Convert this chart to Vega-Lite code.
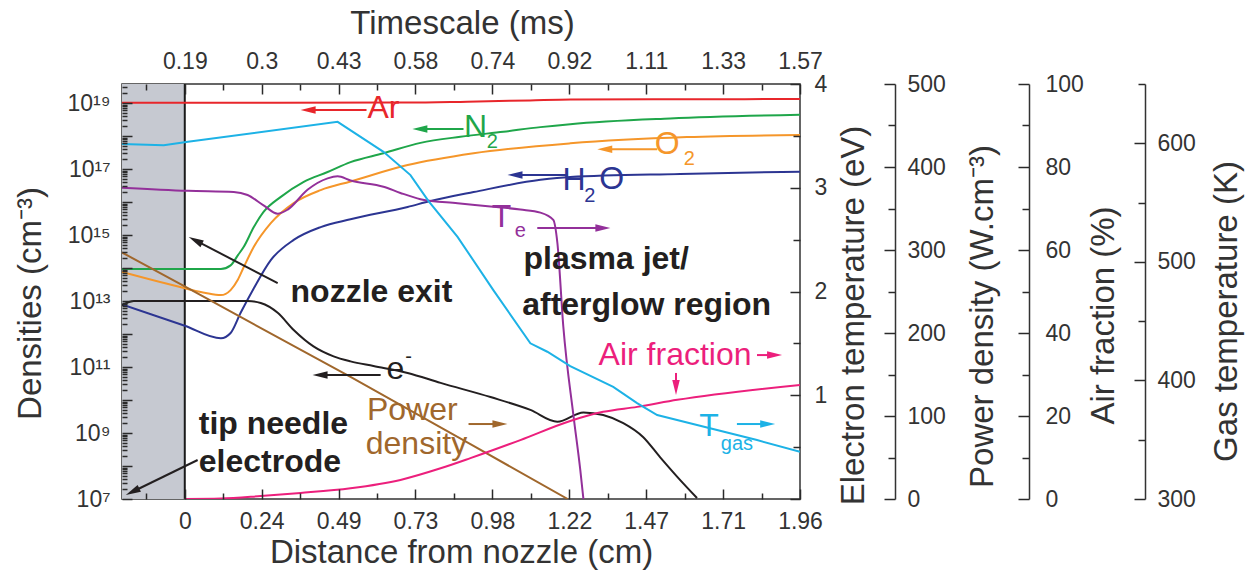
{
  "$schema": "https://vega.github.io/schema/vega-lite/v6.json",
  "width": 678,
  "height": 415,
  "autosize": {"type": "none"},
  "padding": {"left": 122, "top": 84, "right": 453, "bottom": 77},
  "background": "white",
  "config": {
    "view": {"stroke": "#333333", "strokeWidth": 1.5},
    "font": "Liberation Sans",
    "axis": {
      "labelFont": "Liberation Sans", "titleFont": "Liberation Sans",
      "labelFontSize": 23, "titleFontSize": 33, "titleFontWeight": "normal",
      "labelColor": "#333333", "titleColor": "#333333",
      "tickColor": "#2a2a2a", "domainColor": "#333333",
      "tickWidth": 1.5, "domainWidth": 1.5, "grid": false,
      "labelOverlap": false, "labelFlush": false,
      "titleAlign": "center", "titleBaseline": "middle", "labelBaseline": "middle"
    },
    "text": {"font": "Liberation Sans"}
  },
  "datasets": {
    "density": [
      {"species": "Ar", "x": -0.2, "n": 1.02e19}, {"species": "Ar", "x": 0.3, "n": 1.02e19},
      {"species": "Ar", "x": 0.71, "n": 1.03e19}, {"species": "Ar", "x": 0.9, "n": 1.1e19},
      {"species": "Ar", "x": 1.1, "n": 1.2e19}, {"species": "Ar", "x": 1.23, "n": 1.27e19},
      {"species": "Ar", "x": 1.6, "n": 1.3e19}, {"species": "Ar", "x": 1.96, "n": 1.32e19},

      {"species": "N2", "x": -0.2, "n": 9.3e13}, {"species": "N2", "x": 0.115, "n": 9.3e13},
      {"species": "N2", "x": 0.146, "n": 1.2e14}, {"species": "N2", "x": 0.17, "n": 2.5e14},
      {"species": "N2", "x": 0.188, "n": 4.4e14}, {"species": "N2", "x": 0.22, "n": 1.74e15},
      {"species": "N2", "x": 0.251, "n": 5.0e15}, {"species": "N2", "x": 0.305, "n": 1.41e16},
      {"species": "N2", "x": 0.379, "n": 4.1e16}, {"species": "N2", "x": 0.455, "n": 8.1e16},
      {"species": "N2", "x": 0.528, "n": 1.62e17}, {"species": "N2", "x": 0.633, "n": 3.0e17},
      {"species": "N2", "x": 0.751, "n": 6.2e17}, {"species": "N2", "x": 0.878, "n": 9.5e17},
      {"species": "N2", "x": 1.015, "n": 1.35e18}, {"species": "N2", "x": 1.133, "n": 1.86e18},
      {"species": "N2", "x": 1.228, "n": 2.29e18}, {"species": "N2", "x": 1.546, "n": 3.4e18},
      {"species": "N2", "x": 1.96, "n": 4.4e18},

      {"species": "O2", "x": -0.2, "n": 7.6e13}, {"species": "O2", "x": 0, "n": 2.45e13},
      {"species": "O2", "x": 0.067, "n": 1.74e13}, {"species": "O2", "x": 0.115, "n": 1.51e13},
      {"species": "O2", "x": 0.146, "n": 2.14e13}, {"species": "O2", "x": 0.169, "n": 4.4e13},
      {"species": "O2", "x": 0.188, "n": 1.07e14}, {"species": "O2", "x": 0.22, "n": 4.4e14},
      {"species": "O2", "x": 0.274, "n": 2.3e15}, {"species": "O2", "x": 0.347, "n": 9.3e15},
      {"species": "O2", "x": 0.433, "n": 2.3e16}, {"species": "O2", "x": 0.528, "n": 4.2e16},
      {"species": "O2", "x": 0.71, "n": 1.32e17}, {"species": "O2", "x": 0.92, "n": 3.0e17},
      {"species": "O2", "x": 1.228, "n": 6.0e17}, {"species": "O2", "x": 1.6, "n": 9.3e17},
      {"species": "O2", "x": 1.96, "n": 1.07e18},

      {"species": "H2O", "x": -0.2, "n": 7.9e12}, {"species": "H2O", "x": 0, "n": 1.78e12},
      {"species": "H2O", "x": 0.115, "n": 7.4e11}, {"species": "H2O", "x": 0.146, "n": 1.07e12},
      {"species": "H2O", "x": 0.178, "n": 4.4e12}, {"species": "H2O", "x": 0.22, "n": 2.45e13},
      {"species": "H2O", "x": 0.274, "n": 1.74e14}, {"species": "H2O", "x": 0.347, "n": 7.1e14},
      {"species": "H2O", "x": 0.433, "n": 1.74e15}, {"species": "H2O", "x": 0.528, "n": 3.0e15},
      {"species": "H2O", "x": 0.71, "n": 7.1e15}, {"species": "H2O", "x": 0.783, "n": 1.07e16},
      {"species": "H2O", "x": 0.92, "n": 2.0e16}, {"species": "H2O", "x": 1.133, "n": 4.7e16},
      {"species": "H2O", "x": 1.228, "n": 5.75e16}, {"species": "H2O", "x": 1.578, "n": 7.1e16},
      {"species": "H2O", "x": 1.96, "n": 8.3e16},

      {"species": "e", "x": -0.2, "n": 7.4e12}, {"species": "e", "x": -0.162, "n": 1.0e13},
      {"species": "e", "x": 0.2, "n": 1.0e13}, {"species": "e", "x": 0.242, "n": 8.7e12},
      {"species": "e", "x": 0.296, "n": 4.4e12}, {"species": "e", "x": 0.347, "n": 1.32e12},
      {"species": "e", "x": 0.41, "n": 4.2e11}, {"species": "e", "x": 0.474, "n": 2.1e11},
      {"species": "e", "x": 0.528, "n": 1.48e11}, {"species": "e", "x": 0.601, "n": 1.07e11},
      {"species": "e", "x": 0.71, "n": 6.6e10}, {"species": "e", "x": 0.815, "n": 3.3e10},
      {"species": "e", "x": 0.974, "n": 1.23e10}, {"species": "e", "x": 1.101, "n": 5.0e9},
      {"species": "e", "x": 1.187, "n": 2.2e9}, {"species": "e", "x": 1.27, "n": 4.2e9},
      {"species": "e", "x": 1.333, "n": 3.5e9}, {"species": "e", "x": 1.397, "n": 2.0e9},
      {"species": "e", "x": 1.46, "n": 7.6e8}, {"species": "e", "x": 1.514, "n": 1.86e8},
      {"species": "e", "x": 1.569, "n": 4.7e7}, {"species": "e", "x": 1.632, "n": 1.07e7}
    ],
    "te": [
      {"x": -0.2, "te": 3.0}, {"x": 0.01, "te": 2.97}, {"x": 0.156, "te": 2.96}, {"x": 0.2, "te": 2.93},
      {"x": 0.251, "te": 2.83}, {"x": 0.296, "te": 2.75}, {"x": 0.328, "te": 2.79}, {"x": 0.391, "te": 2.98},
      {"x": 0.455, "te": 3.09}, {"x": 0.487, "te": 3.11}, {"x": 0.528, "te": 3.07}, {"x": 0.633, "te": 3.01},
      {"x": 0.687, "te": 2.95}, {"x": 0.751, "te": 2.89}, {"x": 0.869, "te": 2.85}, {"x": 0.974, "te": 2.82},
      {"x": 1.069, "te": 2.79}, {"x": 1.133, "te": 2.76}, {"x": 1.174, "te": 2.69}, {"x": 1.187, "te": 2.47},
      {"x": 1.206, "te": 1.66}, {"x": 1.238, "te": 0.81}, {"x": 1.26, "te": 0.28}, {"x": 1.27, "te": 0.0}
    ],
    "power": [
      {"x": -0.2, "p": 297}, {"x": 0.01, "p": 254}, {"x": 0.528, "p": 147}, {"x": 0.91, "p": 66}, {"x": 1.22, "p": 0}
    ],
    "air": [
      {"x": 0, "a": 0}, {"x": 0.115, "a": 0.1}, {"x": 0.242, "a": 0.7}, {"x": 0.369, "a": 1.45},
      {"x": 0.528, "a": 2.6}, {"x": 0.687, "a": 4.6}, {"x": 0.815, "a": 7.4}, {"x": 0.91, "a": 9.85},
      {"x": 1.069, "a": 14.2}, {"x": 1.228, "a": 18.8}, {"x": 1.333, "a": 21.0}, {"x": 1.441, "a": 22.2},
      {"x": 1.569, "a": 23.9}, {"x": 1.96, "a": 27.5}
    ],
    "tgas": [
      {"x": -0.2, "t": 599.3}, {"x": -0.067, "t": 598.4}, {"x": 0.01, "t": 601.2}, {"x": 0.487, "t": 618.1},
      {"x": 0.633, "t": 592.8}, {"x": 0.719, "t": 573.2}, {"x": 0.776, "t": 551.5}, {"x": 0.869, "t": 521.1},
      {"x": 0.983, "t": 476.2}, {"x": 1.101, "t": 431.3}, {"x": 1.155, "t": 424.2}, {"x": 1.228, "t": 412.1},
      {"x": 1.365, "t": 394.6}, {"x": 1.441, "t": 380.9}, {"x": 1.505, "t": 370.8}, {"x": 1.632, "t": 362.4},
      {"x": 1.823, "t": 349.7}, {"x": 1.96, "t": 339.9}
    ],
    "arrows": [
      {"series": "Ar", "x": 0.579, "y": 6.1e18, "x2": 0.393, "y2": 6.1e18, "heading": 270},
      {"series": "N2", "x": 0.888, "y": 1.63e18, "x2": 0.749, "y2": 1.63e18, "heading": 270},
      {"series": "O2", "x": 1.505, "y": 4.0e17, "x2": 1.338, "y2": 4.0e17, "heading": 270},
      {"series": "H2O", "x": 1.219, "y": 6.6e16, "x2": 1.052, "y2": 6.6e16, "heading": 270},
      {"series": "Te", "x": 1.123, "y": 1.63e15, "x2": 1.332, "y2": 1.63e15, "heading": 90},
      {"series": "e", "x": 0.624, "y": 5.7e10, "x2": 0.431, "y2": 5.7e10, "heading": 270},
      {"series": "Power", "x": 0.904, "y": 1.87e9, "x2": 1.004, "y2": 1.87e9, "heading": 90},
      {"series": "Air", "x": 1.823, "y": 2.3e11, "x2": 1.879, "y2": 2.3e11, "heading": 90},
      {"series": "Air", "x": 1.565, "y": 6.6e10, "x2": 1.565, "y2": 2.4e10, "heading": 180},
      {"series": "Tgas", "x": 1.759, "y": 1.87e9, "x2": 1.857, "y2": 1.87e9, "heading": 90},
      {"series": "e", "x": 0.296, "y": 3.5e13, "x2": 0.034, "y2": 6.86e14, "heading": 297},
      {"series": "e", "x": 0.041, "y": 1.52e8, "x2": -0.1664, "y2": 1.66e7, "heading": 244}
    ],
    "labels": [
      {"series": "Ar", "x": 0.633, "y": 7.3e18, "text": "Ar"},
      {"series": "N2", "x": 0.926, "y": 1.87e18, "text": "N"},
      {"series": "O2", "x": 1.537, "y": 5.7e17, "text": "O"},
      {"series": "H2O", "x": 1.24, "y": 4.6e16, "text": "H"},
      {"series": "H2O", "x": 1.36, "y": 5.0e16, "text": "O"},
      {"series": "Te", "x": 1.009, "y": 3.5e15, "text": "T"},
      {"series": "Air", "x": 1.562, "y": 2.3e11, "text": "Air fraction"},
      {"series": "Tgas", "x": 1.67, "y": 1.63e9, "text": "T"},
      {"series": "e", "x": 0.671, "y": 8.7e10, "text": "e"},
      {"series": "Power", "x": 0.725, "y": 4.9e9, "text": "Power"},
      {"series": "Power", "x": 0.738, "y": 4.6e8, "text": "density"}
    ],
    "scripts": [
      {"series": "N2", "x": 0.98, "y": 6.6e17, "text": "2"},
      {"series": "O2", "x": 1.607, "y": 2.0e17, "text": "2"},
      {"series": "H2O", "x": 1.29, "y": 1.5e16, "text": "2"},
      {"series": "Te", "x": 1.069, "y": 1.32e15, "text": "e"},
      {"series": "Tgas", "x": 1.759, "y": 4.6e8, "text": "gas"},
      {"series": "e", "x": 0.713, "y": 2.0e11, "text": "-"}
    ],
    "notes": [
      {"x": 0.337, "y": 1.94e13, "text": "nozzle exit"},
      {"x": 1.079, "y": 1.94e14, "text": "plasma jet/"},
      {"x": 1.075, "y": 7.8e12, "text": "afterglow region"},
      {"x": 0.0445, "y": 1.86e9, "text": "tip needle"},
      {"x": 0.0445, "y": 1.32e8, "text": "electrode"}
    ]
  },
  "layer": [
    {
      "data": {"values": [{"from": -0.2, "to": 0}]},
      "mark": {"type": "rect", "color": "#c6c9d1"},
      "encoding": {
        "x": {
          "field": "from", "type": "quantitative",
          "scale": {"domain": [-0.2, 1.96], "nice": false, "zero": false},
          "axis": {
            "orient": "bottom", "domain": false, "zindex": 2,
            "values": [-0.1225, 0, 0.1225, 0.245, 0.3675, 0.49, 0.6125, 0.735, 0.8575, 0.98, 1.1025, 1.225, 1.3475, 1.47, 1.5925, 1.715, 1.8375, 1.96],
            "tickSize": {"condition": {"test": "abs(datum.value/0.245 - round(datum.value/0.245)) < 0.1", "value": -10}, "value": -6},
            "labelPadding": 32,
            "labelExpr": "abs(datum.value/0.245 - round(datum.value/0.245)) < 0.1 ? ['0','0.24','0.49','0.73','0.98','1.22','1.47','1.71','1.96'][round(datum.value/0.245)] : ''",
            "title": "Distance from nozzle (cm)", "titleX": 339, "titleY": 53
          }
        },
        "x2": {"field": "to"}
      }
    },
    {
      "data": {"values": [{"at": 0}]},
      "mark": {"type": "rule", "color": "#1a1a1a", "strokeWidth": 2},
      "encoding": {"x": {"field": "at", "type": "quantitative", "axis": null}}
    },
    {
      "data": {"name": "density"},
      "mark": {"type": "line", "strokeWidth": 2, "clip": true, "interpolate": "monotone"},
      "encoding": {
        "x": {"field": "x", "type": "quantitative", "axis": null},
        "y": {
          "field": "n", "type": "quantitative",
          "scale": {"type": "log", "domain": [1e7, 3.77e19], "nice": false},
          "axis": {
            "orient": "left", "domain": false, "zindex": 2,
            "values": [1e7,2e7,3e7,4e7,5e7,6e7,7e7,8e7,9e7,1e8,2e8,3e8,4e8,5e8,6e8,7e8,8e8,9e8,1e9,2e9,3e9,4e9,5e9,6e9,7e9,8e9,9e9,1e10,2e10,3e10,4e10,5e10,6e10,7e10,8e10,9e10,1e11,2e11,3e11,4e11,5e11,6e11,7e11,8e11,9e11,1e12,2e12,3e12,4e12,5e12,6e12,7e12,8e12,9e12,1e13,2e13,3e13,4e13,5e13,6e13,7e13,8e13,9e13,1e14,2e14,3e14,4e14,5e14,6e14,7e14,8e14,9e14,1e15,2e15,3e15,4e15,5e15,6e15,7e15,8e15,9e15,1e16,2e16,3e16,4e16,5e16,6e16,7e16,8e16,9e16,1e17,2e17,3e17,4e17,5e17,6e17,7e17,8e17,9e17,1e18,2e18,3e18,4e18,5e18,6e18,7e18,8e18,9e18,1e19,2e19,3e19],
            "tickSize": {"condition": {"test": "abs(log(datum.value)/LN10 - round(log(datum.value)/LN10)) < 0.01", "value": -10}, "value": -5},
            "labelPadding": 22,
            "labelExpr": "abs(log(datum.value)/LN10 - round(log(datum.value)/LN10)) < 0.01 ? ['','','','','','','','10⁷','','10⁹','','10¹¹','','10¹³','','10¹⁵','','10¹⁷','','10¹⁹'][round(log(datum.value)/LN10)] : ''",
            "title": "Densities (cm⁻³)", "titleAngle": 270, "titleX": -92, "titleY": 219
          }
        },
        "color": {
          "field": "species", "type": "nominal", "legend": null,
          "scale": {"domain": ["Ar", "N2", "O2", "H2O", "e", "Te", "Power", "Air", "Tgas"],
                    "range": ["#e8262b", "#1fa64a", "#f5962a", "#2c3592", "#231f20", "#93309a", "#a0672c", "#ec1f7c", "#1db2e6"]}
        }
      }
    },
    {
      "data": {"name": "te"},
      "mark": {"type": "line", "strokeWidth": 2, "clip": true, "color": "#93309a", "interpolate": "monotone"},
      "encoding": {
        "x": {
          "field": "x", "type": "quantitative",
          "axis": {
            "orient": "top", "domain": false, "zindex": 2,
            "values": [-0.1225, 0, 0.1225, 0.245, 0.3675, 0.49, 0.6125, 0.735, 0.8575, 0.98, 1.1025, 1.225, 1.3475, 1.47, 1.5925, 1.715, 1.8375, 1.96],
            "tickSize": {"condition": {"test": "abs(datum.value/0.245 - round(datum.value/0.245)) < 0.1", "value": -10}, "value": -6},
            "labelPadding": 33,
            "labelExpr": "abs(datum.value/0.245 - round(datum.value/0.245)) < 0.1 ? ['0.19','0.3','0.43','0.58','0.74','0.92','1.11','1.33','1.57'][round(datum.value/0.245)] : ''",
            "title": "Timescale (ms)", "titleX": 340, "titleY": -61
          }
        },
        "y": {
          "field": "te", "type": "quantitative",
          "scale": {"domain": [0, 4], "nice": false},
          "axis": {
            "orient": "right", "domain": false, "zindex": 2,
            "values": [0, 0.5, 1, 1.5, 2, 2.5, 3, 3.5, 4],
            "tickSize": {"condition": {"test": "datum.value % 1 == 0", "value": -10}, "value": -7},
            "labelPadding": 24,
            "labelExpr": "datum.value % 1 == 0 && datum.value > 0 ? format(datum.value, 'd') : ''",
            "title": "Electron temperature (eV)", "titleAngle": 270, "titleX": 53, "titleY": 231
          }
        }
      }
    },
    {
      "data": {"name": "power"},
      "mark": {"type": "line", "strokeWidth": 2, "clip": true, "color": "#a0672c"},
      "encoding": {
        "x": {"field": "x", "type": "quantitative", "axis": null},
        "y": {
          "field": "p", "type": "quantitative",
          "scale": {"domain": [0, 500], "nice": false},
          "axis": {
            "orient": "right", "offset": 95, "zindex": 2,
            "values": [0, 50, 100, 150, 200, 250, 300, 350, 400, 450, 500],
            "tickSize": {"condition": {"test": "datum.value % 100 == 0", "value": -11}, "value": -7},
            "labelPadding": 23,
            "labelExpr": "datum.value % 100 == 0 ? format(datum.value, 'd') : ''",
            "title": "Power density (W.cm⁻³)", "titleAngle": 270, "titleX": 87, "titleY": 232
          }
        }
      }
    },
    {
      "data": {"name": "air"},
      "mark": {"type": "line", "strokeWidth": 2, "clip": true, "color": "#ec1f7c", "interpolate": "monotone"},
      "encoding": {
        "x": {"field": "x", "type": "quantitative", "axis": null},
        "y": {
          "field": "a", "type": "quantitative",
          "scale": {"domain": [0, 100], "nice": false},
          "axis": {
            "orient": "right", "offset": 229, "zindex": 2,
            "values": [0, 10, 20, 30, 40, 50, 60, 70, 80, 90, 100],
            "tickSize": {"condition": {"test": "datum.value % 20 == 0", "value": -11}, "value": -7},
            "labelPadding": 27,
            "labelExpr": "datum.value % 20 == 0 ? format(datum.value, 'd') : ''",
            "title": "Air fraction (%)", "titleAngle": 270, "titleX": 74, "titleY": 231
          }
        }
      }
    },
    {
      "data": {"name": "tgas"},
      "mark": {"type": "line", "strokeWidth": 2, "clip": true, "color": "#1db2e6"},
      "encoding": {
        "x": {"field": "x", "type": "quantitative", "axis": null},
        "y": {
          "field": "t", "type": "quantitative",
          "scale": {"domain": [300, 650], "nice": false, "zero": false},
          "axis": {
            "orient": "right", "offset": 345, "zindex": 2,
            "values": [300, 350, 400, 450, 500, 550, 600, 650],
            "tickSize": {"condition": {"test": "datum.value % 100 == 0", "value": -11}, "value": -7},
            "labelPadding": 23,
            "labelExpr": "datum.value % 100 == 0 ? format(datum.value, 'd') : ''",
            "title": "Gas temperature (K)", "titleAngle": 270, "titleX": 81, "titleY": 227
          }
        }
      }
    },
    {
      "data": {"name": "arrows"},
      "mark": {"type": "rule", "strokeWidth": 2},
      "encoding": {
        "x": {"field": "x", "type": "quantitative", "axis": null},
        "x2": {"field": "x2"},
        "y": {"field": "y", "type": "quantitative", "scale": {"type": "log", "domain": [1e7, 3.77e19], "nice": false}, "axis": null},
        "y2": {"field": "y2"},
        "color": {"field": "series", "type": "nominal", "legend": null}
      }
    },
    {
      "data": {"name": "arrows"},
      "mark": {"type": "point", "filled": true, "opacity": 1, "size": 225, "shape": "M0,-1L0.5,1L-0.5,1Z"},
      "encoding": {
        "x": {"field": "x2", "type": "quantitative", "axis": null},
        "y": {"field": "y2", "type": "quantitative", "scale": {"type": "log", "domain": [1e7, 3.77e19], "nice": false}, "axis": null},
        "angle": {"field": "heading", "type": "quantitative", "scale": null},
        "color": {"field": "series", "type": "nominal", "legend": null}
      }
    },
    {
      "data": {"name": "labels"},
      "mark": {"type": "text", "fontSize": 32, "align": "center", "baseline": "middle"},
      "encoding": {
        "x": {"field": "x", "type": "quantitative", "axis": null},
        "y": {"field": "y", "type": "quantitative", "scale": {"type": "log", "domain": [1e7, 3.77e19], "nice": false}, "axis": null},
        "text": {"field": "text"},
        "color": {"field": "series", "type": "nominal", "legend": null}
      }
    },
    {
      "data": {"name": "scripts"},
      "mark": {"type": "text", "fontSize": 20, "align": "center", "baseline": "middle"},
      "encoding": {
        "x": {"field": "x", "type": "quantitative", "axis": null},
        "y": {"field": "y", "type": "quantitative", "scale": {"type": "log", "domain": [1e7, 3.77e19], "nice": false}, "axis": null},
        "text": {"field": "text"},
        "color": {"field": "series", "type": "nominal", "legend": null}
      }
    },
    {
      "data": {"name": "notes"},
      "mark": {"type": "text", "fontSize": 32, "fontWeight": "bold", "align": "left", "baseline": "middle", "color": "#231f20"},
      "encoding": {
        "x": {"field": "x", "type": "quantitative", "axis": null},
        "y": {"field": "y", "type": "quantitative", "scale": {"type": "log", "domain": [1e7, 3.77e19], "nice": false}, "axis": null},
        "text": {"field": "text"}
      }
    }
  ],
  "resolve": {"scale": {"y": "independent"}, "axis": {"x": "independent", "y": "independent"}}
}
